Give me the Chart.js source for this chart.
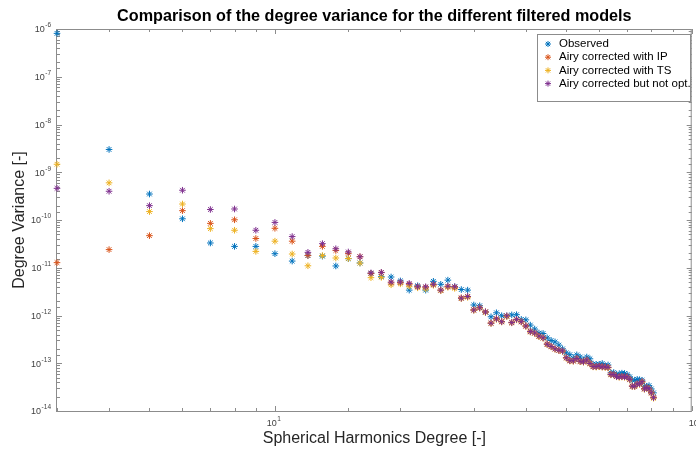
<!DOCTYPE html>
<html>
<head>
<meta charset="utf-8">
<script src="https://cdn.jsdelivr.net/npm/chart.js@4.4.0/dist/chart.umd.min.js"></script>
<style>
  html, body { margin: 0; padding: 0; background: #fff; }
  #wrap { width: 696px; height: 452px; }
</style>
</head>
<body>
<div id="wrap"><canvas id="chart" width="696" height="452"></canvas></div>
<script>
// spherical harmonic degrees (x)
const degrees = [
  3, 4, 5, 6, 7, 8, 9, 10, 11, 12,
  13, 14, 15, 16, 17, 18, 19, 20, 21, 22,
  23, 24, 25, 26, 27, 28, 29, 30, 31, 32,
  33, 34, 35, 36, 37, 38, 39, 40, 41, 42,
  43, 44, 45, 46, 47, 48, 49, 50, 51, 52,
  53, 54, 55, 56, 57, 58, 59, 60, 61, 62,
  63, 64, 65, 66, 67, 68, 69, 70, 71, 72,
  73, 74, 75, 76, 77, 78, 79, 80, 81
];

const observed = [
  8.1e-7, 3.0e-9, 3.5e-10, 1.06e-10, 3.3e-11, 2.8e-11, 2.8e-11, 1.97e-11, 1.38e-11, 1.8e-11,
  1.75e-11, 1.09e-11, 1.55e-11, 1.26e-11, 7.6e-12, 6.5e-12, 6.4e-12, 5.3e-12, 3.4e-12, 4.2e-12,
  3.4e-12, 5.2e-12, 4.5e-12, 5.5e-12, 4.0e-12, 3.5e-12, 3.4e-12, 1.66e-12, 1.6e-12, 1.18e-12,
  9.4e-13, 1.14e-12, 9.9e-13, 9.8e-13, 1.03e-12, 1.04e-12, 8.3e-13, 8.1e-13, 6.3e-13, 5.2e-13,
  4.3e-13, 4.2e-13, 3.4e-13, 3.0e-13, 2.8e-13, 2.4e-13, 2.0e-13, 1.64e-13, 1.51e-13, 1.28e-13,
  1.5e-13, 1.35e-13, 1.15e-13, 1.35e-13, 1.24e-13, 9.6e-14, 9.5e-14, 9.5e-14, 9.9e-14, 8.8e-14,
  9.2e-14, 6.3e-14, 6.4e-14, 5.8e-14, 6.0e-14, 6.2e-14, 6.1e-14, 5.8e-14, 5.2e-14, 4.4e-14,
  4.4e-14, 4.6e-14, 4.5e-14, 4.4e-14, 3.3e-14, 3.3e-14, 3.4e-14, 2.9e-14, 2.4e-14
];

const airyIP = [
  1.28e-11, 2.4e-11, 4.7e-11, 1.57e-10, 8.5e-11, 1.01e-10, 4.1e-11, 6.7e-11, 3.6e-11, 1.8e-11,
  2.8e-11, 2.3e-11, 2.0e-11, 1.7e-11, 7.6e-12, 7.9e-12, 4.8e-12, 4.9e-12, 4.5e-12, 4.0e-12,
  3.9e-12, 4.4e-12, 3.4e-12, 4.0e-12, 3.9e-12, 2.35e-12, 2.5e-12, 1.32e-12, 1.45e-12, 1.2e-12,
  7.0e-13, 8.6e-13, 7.5e-13, 9.7e-13, 7.2e-13, 8.3e-13, 7.5e-13, 6.1e-13, 4.7e-13, 4.3e-13,
  3.7e-13, 3.4e-13, 2.55e-13, 2.25e-13, 2.0e-13, 1.88e-13, 1.8e-13, 1.31e-13, 1.14e-13, 1.12e-13,
  1.26e-13, 1.1e-13, 1.07e-13, 1.17e-13, 1.0e-13, 8.6e-14, 8.5e-14, 8.7e-14, 8.5e-14, 8.4e-14,
  8.2e-14, 5.9e-14, 5.8e-14, 5.3e-14, 5.2e-14, 5.3e-14, 5.2e-14, 5.2e-14, 4.6e-14, 3.35e-14,
  3.3e-14, 3.7e-14, 3.7e-14, 4.1e-14, 2.95e-14, 3.1e-14, 2.9e-14, 2.45e-14, 1.95e-14
];

const airyTS = [
  1.47e-9, 6.0e-10, 1.5e-10, 2.16e-10, 6.6e-11, 6.1e-11, 2.2e-11, 3.6e-11, 1.94e-11, 1.1e-11,
  1.8e-11, 1.6e-11, 1.56e-11, 1.25e-11, 6.2e-12, 6.3e-12, 4.4e-12, 4.6e-12, 4.1e-12, 3.8e-12,
  3.6e-12, 4.3e-12, 3.3e-12, 3.9e-12, 3.7e-12, 2.25e-12, 2.4e-12, 1.28e-12, 1.42e-12, 1.15e-12,
  6.8e-13, 8.3e-13, 7.3e-13, 9.5e-13, 7.0e-13, 8.1e-13, 7.3e-13, 5.9e-13, 4.5e-13, 4.2e-13,
  3.6e-13, 3.35e-13, 2.45e-13, 2.2e-13, 1.97e-13, 1.84e-13, 1.77e-13, 1.28e-13, 1.11e-13, 1.1e-13,
  1.24e-13, 1.08e-13, 1.05e-13, 1.15e-13, 9.7e-14, 8.4e-14, 8.3e-14, 8.5e-14, 8.3e-14, 8.2e-14,
  8.0e-14, 5.7e-14, 5.7e-14, 5.2e-14, 5.1e-14, 5.15e-14, 5.1e-14, 5.1e-14, 4.5e-14, 3.25e-14,
  3.25e-14, 3.6e-14, 3.6e-14, 4.0e-14, 2.85e-14, 3.05e-14, 2.85e-14, 2.35e-14, 1.85e-14
];

const airyNotOpt = [
  4.6e-10, 4.0e-10, 2.0e-10, 4.2e-10, 1.66e-10, 1.7e-10, 6.1e-11, 8.9e-11, 4.5e-11, 2.1e-11,
  3.2e-11, 2.5e-11, 2.14e-11, 1.7e-11, 7.8e-12, 8.0e-12, 5.0e-12, 5.0e-12, 4.7e-12, 4.0e-12,
  4.0e-12, 4.5e-12, 3.4e-12, 4.1e-12, 4.0e-12, 2.3e-12, 2.5e-12, 1.3e-12, 1.45e-12, 1.18e-12,
  6.9e-13, 8.5e-13, 7.4e-13, 9.8e-13, 7.1e-13, 8.3e-13, 7.4e-13, 6.0e-13, 4.6e-13, 4.3e-13,
  3.7e-13, 3.4e-13, 2.5e-13, 2.25e-13, 2.0e-13, 1.87e-13, 1.8e-13, 1.3e-13, 1.13e-13, 1.12e-13,
  1.26e-13, 1.1e-13, 1.07e-13, 1.17e-13, 9.9e-14, 8.5e-14, 8.5e-14, 8.7e-14, 8.4e-14, 8.4e-14,
  8.2e-14, 5.8e-14, 5.8e-14, 5.25e-14, 5.2e-14, 5.25e-14, 5.2e-14, 5.2e-14, 4.6e-14, 3.3e-14,
  3.3e-14, 3.7e-14, 3.7e-14, 4.1e-14, 2.9e-14, 3.1e-14, 2.9e-14, 2.4e-14, 1.9e-14
];

const seriesNames = ['Observed', 'Airy corrected with IP', 'Airy corrected with TS', 'Airy corrected but not opt.'];
const seriesColors = ['#0072BD', '#D95319', '#EDB120', '#7E2F8E'];

// exponents that get a "10^n" label
const xTickExps = [1, 2];
const yTickExps = [-14, -13, -12, -11, -10, -9, -8, -7, -6];

const FONT = '"Liberation Sans", Arial, Helvetica, sans-serif';
const AXIS_GREY = '#262626';

function isPow10(v) {
  const l = Math.log10(v);
  return Math.abs(l - Math.round(l)) < 1e-9;
}

// "10" with a raised exponent
function drawPow(ctx, x, y, exp, align) {
  const sup = String(exp);
  ctx.font = '9px ' + FONT;
  const wb = ctx.measureText('10').width;
  ctx.font = '6.5px ' + FONT;
  const ws = ctx.measureText(sup).width;
  const total = wb + ws + 0.5;
  let x0 = align === 'right' ? x - total : x - total / 2;
  ctx.textAlign = 'left';
  ctx.textBaseline = 'middle';
  ctx.fillStyle = '#404040';
  ctx.font = '9px ' + FONT;
  ctx.fillText('10', x0, y);
  ctx.font = '6.5px ' + FONT;
  ctx.fillText(sup, x0 + wb + 0.5, y - 4.5);
}

// axes box + inward ticks on all four sides, like matlab
const boxPlugin = {
  id: 'box',
  beforeDatasetsDraw(chart) {
    const ctx = chart.ctx;
    const {left, right, top, bottom} = chart.chartArea;
    const xs = chart.scales.x, ys = chart.scales.y;
    ctx.save();
    ctx.strokeStyle = '#8c8c8c';
    ctx.lineWidth = 1;
    ctx.strokeRect(left - 0.5, top + 0.5, right - left, bottom - top);
    ctx.beginPath();
    xs.ticks.forEach(t => {
      const px = Math.round(xs.getPixelForValue(t.value)) + 0.5;
      const len = isPow10(t.value) ? 5 : 3;
      ctx.moveTo(px, bottom); ctx.lineTo(px, bottom - len);
      ctx.moveTo(px, top); ctx.lineTo(px, top + len);
    });
    ys.ticks.forEach(t => {
      const py = Math.round(ys.getPixelForValue(t.value)) + 0.5;
      const len = isPow10(t.value) ? 5 : 3;
      ctx.moveTo(left, py); ctx.lineTo(left + len, py);
      ctx.moveTo(right, py); ctx.lineTo(right - len, py);
    });
    ctx.stroke();
    ctx.restore();
  },
  afterDraw(chart) {
    const ctx = chart.ctx;
    const {left, right, top, bottom} = chart.chartArea;
    const xs = chart.scales.x, ys = chart.scales.y;
    ctx.save();
    xTickExps.forEach(e => {
      // matlab pushes the last label half off the figure
      const shift = e === xTickExps[xTickExps.length - 1] ? 4 : -1;
      drawPow(ctx, xs.getPixelForValue(Math.pow(10, e)) + shift, bottom + 13, e, 'center');
    });
    yTickExps.forEach(e => {
      drawPow(ctx, left - 6, ys.getPixelForValue(Math.pow(10, e)) + 1, e, 'right');
    });

    // title
    ctx.fillStyle = '#000';
    ctx.font = 'bold 16.2px ' + FONT;
    ctx.textAlign = 'center';
    ctx.textBaseline = 'alphabetic';
    ctx.fillText('Comparison of the degree variance for the different filtered models', (left + right) / 2, 21);

    // legend box
    const lx = 537, ly = 34, lw = 153, lh = 67;
    ctx.fillStyle = '#fff';
    ctx.fillRect(lx, ly, lw, lh);
    ctx.strokeStyle = '#8c8c8c';
    ctx.lineWidth = 1;
    ctx.strokeRect(lx + 0.5, ly + 0.5, lw, lh);
    chart.data.datasets.forEach((ds, i) => {
      const cy = 44 + i * 13.2;
      ctx.strokeStyle = ds.borderColor;
      ctx.fillStyle = ds.borderColor;
      ctx.lineWidth = 1;
      if (Chart.helpers && Chart.helpers.drawPoint) {
        Chart.helpers.drawPoint(ctx, {pointStyle: 'star', radius: 3, rotation: 0, borderWidth: 1}, 548, cy);
      }
      ctx.fillStyle = '#000';
      ctx.font = '11.5px ' + FONT;
      ctx.textAlign = 'left';
      ctx.textBaseline = 'middle';
      ctx.fillText(ds.label, 559, cy);
    });
    ctx.restore();
  }
};

const allSeries = [observed, airyIP, airyTS, airyNotOpt];

const datasets = allSeries.map((vals, k) => ({
  label: seriesNames[k],
  data: degrees.map((d, i) => ({x: d, y: vals[i]})),
  showLine: false,
  pointStyle: 'star',
  pointRadius: 3.3,
  pointHoverRadius: 3.3,
  borderWidth: 1,
  borderColor: seriesColors[k],
  backgroundColor: seriesColors[k],
  clip: false,
  order: 4 - k
}));

new Chart(document.getElementById('chart'), {
  type: 'scatter',
  data: { datasets: datasets },
  options: {
    responsive: false,
    animation: false,
    layout: { padding: { top: 29, right: 2, left: 0, bottom: 0 } },
    plugins: {
      legend: { display: false },
      tooltip: { enabled: false },
      title: { display: false }
    },
    scales: {
      x: {
        type: 'logarithmic',
        min: 3,
        max: 100,
        grid: { display: false },
        border: { display: false },
        ticks: { display: false },
        title: {
          display: true,
          text: 'Spherical Harmonics Degree [-]',
          color: AXIS_GREY,
          font: { family: FONT, size: 16 },
          padding: { top: 0, bottom: 4 }
        },
        afterFit: s => { s.height = 41; }
      },
      y: {
        type: 'logarithmic',
        min: 1e-14,
        max: 1e-6,
        grid: { display: false },
        border: { display: false },
        ticks: { display: false },
        title: {
          display: true,
          text: 'Degree Variance [-]',
          color: AXIS_GREY,
          font: { family: FONT, size: 16 },
          padding: { top: 10, bottom: 0 }
        },
        afterFit: s => { s.width = 57; }
      }
    }
  },
  plugins: [boxPlugin]
});
</script>
</body>
</html>
